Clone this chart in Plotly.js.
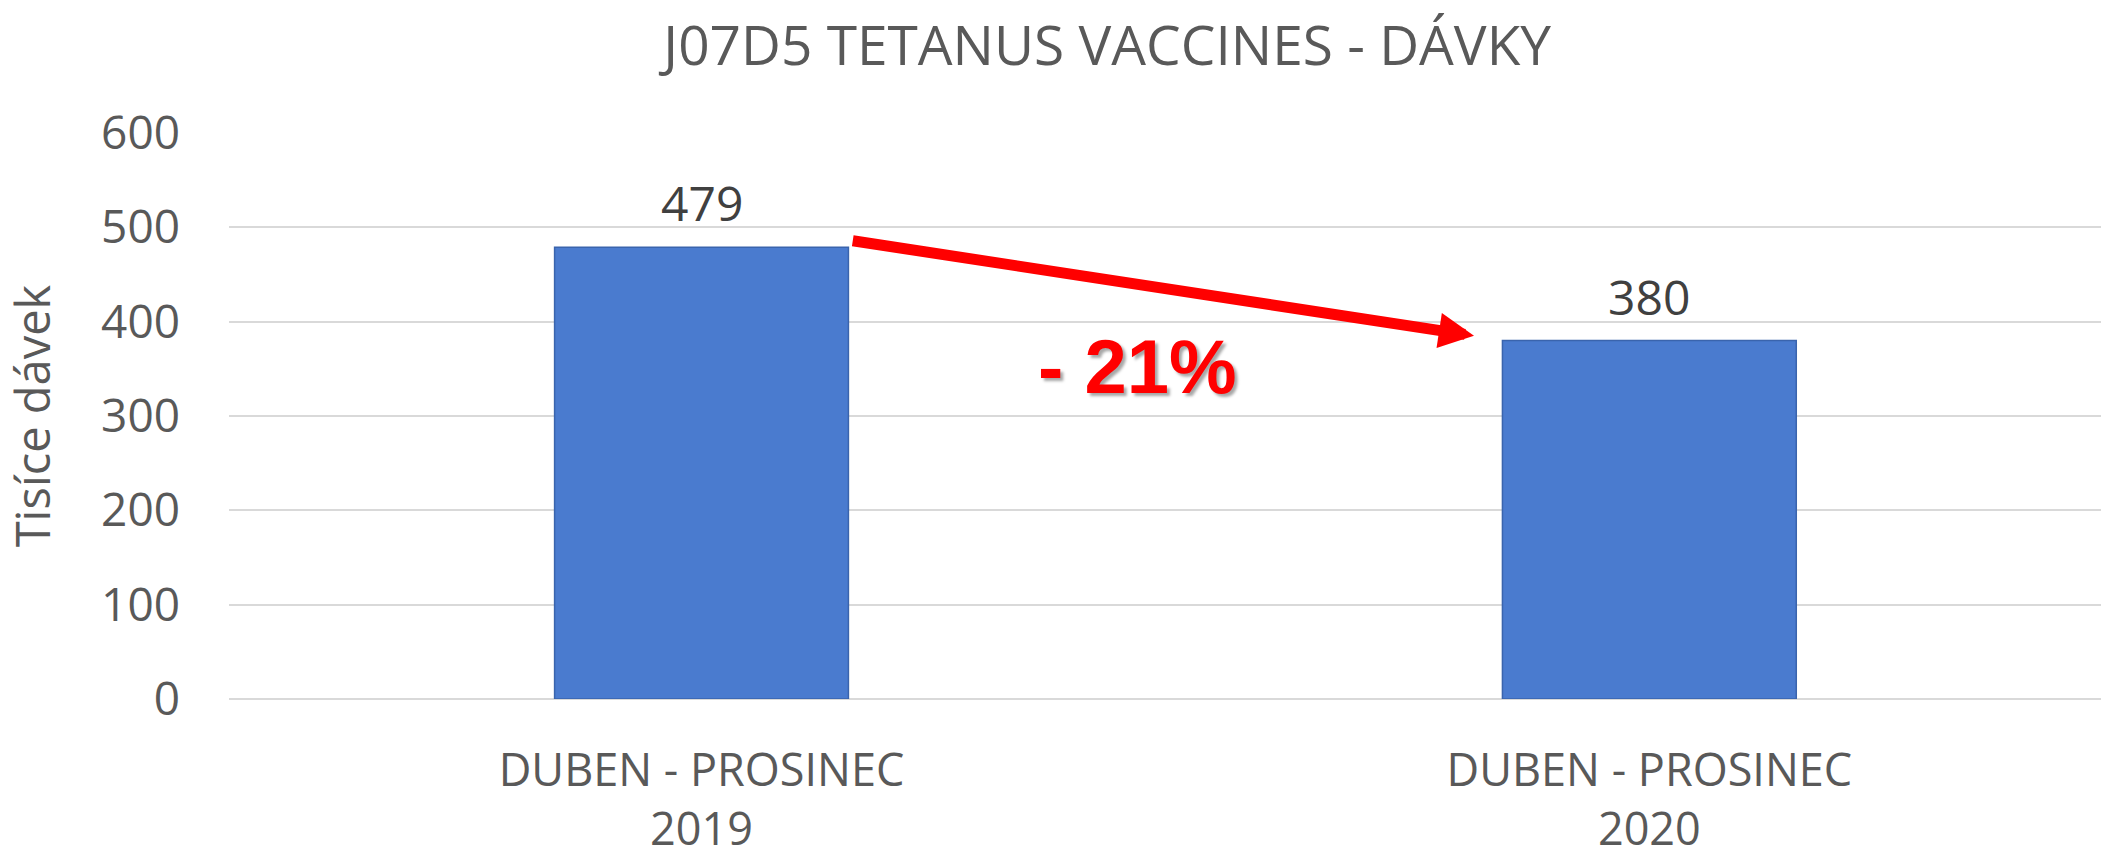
<!DOCTYPE html>
<html>
<head>
<meta charset="utf-8">
<script src="https://cdn.plot.ly/plotly-3.0.1.min.js"></script>
<style>html,body{margin:0;padding:0;background:#fff;}#chart{width:2101px;height:852px;}</style>
</head>
<body>
<div id="chart"></div>
<script>
const categories = ["DUBEN - PROSINEC<br>2019", "DUBEN - PROSINEC<br>2020"];
const values = [479, 380];
const tickValues = [0, 100, 200, 300, 400, 500, 600];
const chartTitle = "J07D5 TETANUS VACCINES - DÁVKY";
const yTitle = "Tisíce dávek";

const barWidth = 0.31;
const change = Math.round((values[1] - values[0]) / values[0] * 100);
const changeText = (change < 0 ? "- " : "+ ") + Math.abs(change) + "%";

const idx = categories.map((c, i) => i);

const trace = {
  type: 'bar',
  x: idx,
  y: values,
  width: barWidth,
  marker: {color: '#4a7bcf', line: {color: '#3a64ad', width: 1.5}},
  hoverinfo: 'skip'
};

const annotations = values.map((v, i) => ({
  x: i, y: v, xref: 'x', yref: 'y',
  text: String(v), showarrow: false,
  yanchor: 'bottom', yshift: 10,
  font: {family: 'Open Sans', size: 48, color: '#404040'}
}));

annotations.push({
  x: 0.815, y: values[1] + 5, xref: 'x', yref: 'y',
  ax: barWidth / 2 + 0.003, ay: values[0] + 7, axref: 'x', ayref: 'y',
  showarrow: true, arrowhead: 2, arrowsize: 0.64, arrowwidth: 11,
  arrowcolor: '#ff0000', text: ''
});

annotations.push({
  x: 0.46, y: 353, xref: 'x', yref: 'y',
  text: changeText, showarrow: false,
  xanchor: 'center', yanchor: 'middle',
  font: {family: 'Liberation Sans', size: 76, color: '#ff0000', weight: 'bold',
         shadow: '3px 3px 3px rgba(0,0,0,0.35)'}
});

const layout = {
  width: 2101, height: 852,
  margin: {l: 229, r: 0, t: 133, b: 153},
  paper_bgcolor: '#ffffff', plot_bgcolor: '#ffffff',
  showlegend: false,
  title: {
    text: chartTitle, xref: 'container', yref: 'container',
    x: 0.527, xanchor: 'center', y: 0.946, yanchor: 'middle',
    font: {family: 'Open Sans', size: 55, color: '#595959'}
  },
  xaxis: {
    type: 'linear', range: [-0.4985, 1.4765],
    tickmode: 'array', tickvals: idx, ticktext: categories,
    showgrid: false, zeroline: false, showline: false, ticks: '',
    tickfont: {family: 'Open Sans', size: 45, color: '#595959'},
    ticklabelstandoff: 41
  },
  yaxis: {
    range: [0, 600], tickmode: 'array', tickvals: tickValues,
    showgrid: true, gridcolor: '#d9d9d9', gridwidth: 2.3,
    zeroline: true, zerolinecolor: '#d9d9d9', zerolinewidth: 2.3,
    showline: false, ticks: '',
    tickfont: {family: 'Open Sans', size: 46, color: '#595959'},
    ticklabelstandoff: 48,
    title: {text: yTitle, standoff: 40,
            font: {family: 'Open Sans', size: 47, color: '#595959'}}
  },
  annotations: annotations
};

Plotly.newPlot('chart', [trace], layout, {staticPlot: true, displayModeBar: false});
</script>
</body>
</html>
